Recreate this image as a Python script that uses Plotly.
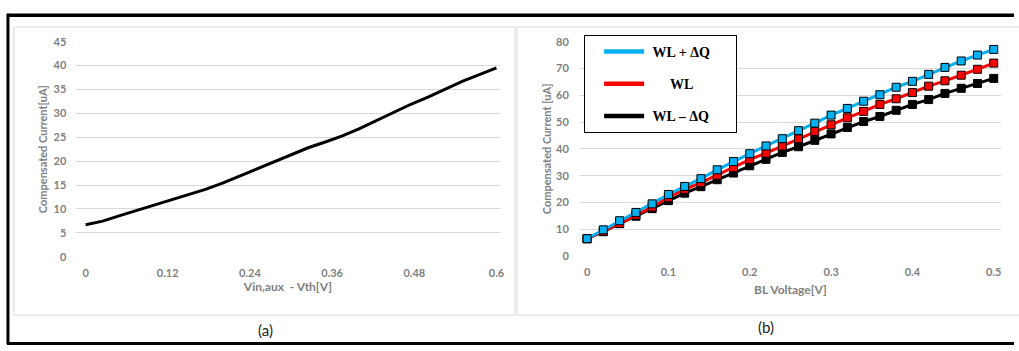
import plotly.graph_objects as go

# ---- data: panel (a) ----
vin_x = [0, 0.025, 0.05, 0.075, 0.1, 0.125, 0.15, 0.175, 0.2, 0.225, 0.25, 0.275, 0.3,
         0.325, 0.35, 0.375, 0.4, 0.425, 0.45, 0.475, 0.5, 0.525, 0.55, 0.575, 0.6]
comp_a = [6.7, 7.45, 8.6, 9.7, 10.7, 11.8, 13.0, 14.1, 15.4, 16.9, 18.4, 19.9, 21.3,
          22.8, 24.0, 25.3, 26.8, 28.5, 30.2, 31.9, 33.4, 35.1, 36.7, 38.1, 39.5]
a_xticks = [0, 0.12, 0.24, 0.36, 0.48, 0.6]
a_xtick_text = ["0", "0.12", "0.24", "0.36", "0.48", "0.6"]
a_yticks = [0, 5, 10, 15, 20, 25, 30, 35, 40, 45]

# ---- data: panel (b) ----
bl_v = [0, 0.02, 0.04, 0.06, 0.08, 0.10, 0.12, 0.14, 0.16, 0.18, 0.20, 0.22, 0.24,
        0.26, 0.28, 0.30, 0.32, 0.34, 0.36, 0.38, 0.40, 0.42, 0.44, 0.46, 0.48, 0.50]
wl_plus = [6.5, 9.8, 13.2, 16.3, 19.5, 23.0, 26.0, 28.9, 32.2, 35.3, 38.2, 41.1, 43.8,
           46.8, 49.6, 52.6, 55.1, 57.8, 60.2, 63.0, 65.2, 67.8, 70.4, 72.8, 75.0, 77.1]
wl_nom = [6.5, 9.3, 12.2, 15.3, 18.3, 21.9, 24.9, 27.4, 30.2, 33.0, 36.0, 38.4, 41.1,
          43.8, 46.5, 49.0, 51.6, 54.0, 56.6, 58.7, 61.0, 63.4, 65.4, 67.5, 69.7, 72.0]
wl_minus = [6.5, 9.1, 12.1, 14.9, 17.7, 20.7, 23.5, 25.9, 28.5, 31.0, 33.7, 36.1, 38.7,
            40.8, 43.2, 45.6, 48.0, 50.2, 52.1, 54.4, 56.6, 58.4, 60.7, 62.6, 64.4, 66.3]
b_xticks = [0, 0.1, 0.2, 0.3, 0.4, 0.5]
b_xtick_text = ["0", "0.1", "0.2", "0.3", "0.4", "0.5"]
b_yticks = [0, 10, 20, 30, 40, 50, 60, 70, 80]
series_names = ["WL + \u0394Q", "WL", "WL \u2013 \u0394Q"]

W, H = 1019, 351
BLUE, RED, BLACK = "#00B0F0", "#FF0000", "#000000"
GRAY = "#808080"
GRID = "#D9D9D9"
TICKFONT = dict(family="Lato", size=11, color=GRAY, weight="bold")
NB = "\u00a0"

fig = go.Figure()

# panel (a)
fig.add_trace(go.Scatter(x=vin_x, y=comp_a, mode="lines", line=dict(color=BLACK, width=3),
                         showlegend=False, xaxis="x", yaxis="y"))

# panel (b): draw black, red, then blue on top
for vals, col in [(wl_minus, BLACK), (wl_nom, RED), (wl_plus, BLUE)]:
    fig.add_trace(go.Scatter(x=bl_v, y=vals, mode="lines+markers",
                             line=dict(color=col, width=3),
                             marker=dict(symbol="square", size=8, color=col,
                                         line=dict(color="#000000", width=1)),
                             showlegend=False, xaxis="x2", yaxis="y2"))

# legend entries (lines only, like the reference legend)
legend_labels = [NB + series_names[0] + NB * 6,
                 NB * 6 + series_names[1],
                 NB + series_names[2]]
for i, (lab, col) in enumerate(zip(legend_labels, [BLUE, RED, BLACK])):
    fig.add_trace(go.Scatter(x=[None], y=[None], mode="lines", name=lab,
                             line=dict(color=col, width=4.5), legendgroup=f"g{i}",
                             showlegend=True, xaxis="x2", yaxis="y2"))


def px_x(p):
    return p / W


def px_y(p):
    return 1 - p / H


fig.update_layout(
    width=W, height=H,
    margin=dict(l=0, r=0, t=0, b=0),
    paper_bgcolor="white", plot_bgcolor="white",
    xaxis=dict(domain=[px_x(76.7), px_x(502)], range=[-0.0135, 0.6045],
               tickvals=a_xticks, ticktext=a_xtick_text, showgrid=False, zeroline=False,
               showline=False, ticks="", tickfont=TICKFONT, ticklabelstandoff=8,
               title=dict(text="Vin,aux  - Vth[V]",
                          font=dict(family="Lato", size=12, color=GRAY, weight="bold"), standoff=2),
               anchor="y"),
    yaxis=dict(domain=[px_y(259.3), px_y(36)], range=[0, 45], tickvals=a_yticks,
               showgrid=True, gridcolor=GRID, gridwidth=1, zeroline=False, showline=False,
               ticks="", tickfont=TICKFONT, ticklabelstandoff=9,
               title=dict(text="Compensated Current[uA]",
                          font=dict(family="Lato", size=11, color=GRAY, weight="bold"), standoff=3),
               anchor="x"),
    xaxis2=dict(domain=[px_x(582.7), px_x(1006)], range=[-0.0089, 0.509],
                tickvals=b_xticks, ticktext=b_xtick_text, showgrid=False, zeroline=False,
                showline=False, ticks="", tickfont=TICKFONT, ticklabelstandoff=8,
                title=dict(text="BL Voltage[V]",
                           font=dict(family="Lato", size=12, color=GRAY, weight="bold"), standoff=8),
                anchor="y2"),
    yaxis2=dict(domain=[px_y(258.7), px_y(36)], range=[0, 80], tickvals=b_yticks,
                showgrid=True, gridcolor=GRID, gridwidth=1, zeroline=False, showline=False,
                ticks="", tickfont=TICKFONT, ticklabelstandoff=10,
                title=dict(text="Compensated Current [uA]",
                           font=dict(family="Lato", size=11, color=GRAY, weight="bold"), standoff=2),
                anchor="x2"),
    legend=dict(x=px_x(587), y=px_y(29), xanchor="left", yanchor="top",
                bgcolor="white", bordercolor="#000000", borderwidth=1,
                font=dict(family="Liberation Serif", size=14, color="#000000", weight="bold"),
                traceorder="grouped", tracegroupgap=11, itemwidth=40, indentation=14),
)

shapes = [
    # outer black frame (top, left, bottom)
    dict(type="line", xref="paper", yref="paper", x0=px_x(7), x1=1, y0=px_y(8.5), y1=px_y(8.5),
         line=dict(color="#000000", width=3.5)),
    dict(type="line", xref="paper", yref="paper", x0=px_x(8), x1=px_x(8), y0=px_y(7), y1=px_y(350),
         line=dict(color="#000000", width=3)),
    dict(type="line", xref="paper", yref="paper", x0=px_x(7), x1=1, y0=px_y(349.5), y1=px_y(349.5),
         line=dict(color="#000000", width=3)),
    # chart area borders
    dict(type="rect", xref="paper", yref="paper", x0=px_x(14), x1=px_x(517.5), y0=px_y(320), y1=px_y(20.7),
         line=dict(color="#D9D9D9", width=1), layer="below"),
    dict(type="rect", xref="paper", yref="paper", x0=px_x(519.5), x1=px_x(1025), y0=px_y(320), y1=px_y(20.7),
         line=dict(color="#D9D9D9", width=1), layer="below"),
]
fig.update_layout(shapes=shapes)

fig.add_annotation(text="(a)", xref="paper", yref="paper", x=px_x(267), y=px_y(335),
                   showarrow=False, font=dict(family="Lato", size=15, color="#222222"),
                   xanchor="center", yanchor="middle")
fig.add_annotation(text="(b)", xref="paper", yref="paper", x=px_x(770), y=px_y(332.5),
                   showarrow=False, font=dict(family="Lato", size=15, color="#222222"),
                   xanchor="center", yanchor="middle")

fig.write_html("out.html")
